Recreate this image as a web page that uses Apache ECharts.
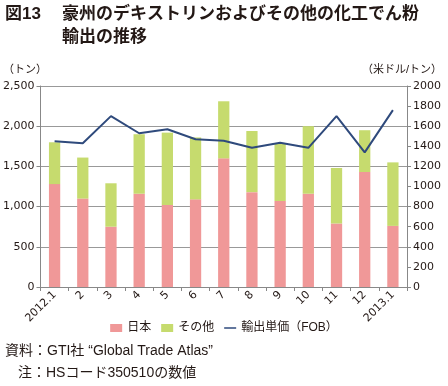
<!DOCTYPE html>
<html><head><meta charset="utf-8">
<script src="https://cdn.jsdelivr.net/npm/echarts@6/dist/echarts.min.js"></script>
<style>html,body{margin:0;padding:0;background:#fff}#c{width:448px;height:386px}</style>
</head><body><div id="c"></div>
<script>
const categories = ['2012.1','2','3','4','5','6','7','8','9','10','11','12','2013.1'];
const japan = [1280,1100,750,1160,1020,1090,1600,1180,1070,1160,790,1430,760];
const totals = [1800,1610,1290,1900,1920,1860,2310,1940,1790,2000,1480,1950,1550];
const others = totals.map((t,i)=>t-japan[i]);
const unitPrice = [1450,1430,1700,1530,1570,1470,1455,1385,1435,1385,1700,1340,1760];
const leftTicks = [0,500,1000,1500,2000,2500];
const rightTicks = [0,200,400,600,800,1000,1200,1400,1600,1800,2000];

const ff = '"Liberation Sans","Noto Sans CJK JP",sans-serif';
const chart = echarts.init(document.getElementById('c'));
chart.setOption({
  animation:false,
  textStyle:{fontFamily:ff},
  graphic:[
    {type:'text',left:5,top:6,style:{text:'図13',font:'bold 17px '+ff,fill:'#231815'}},
    {type:'text',left:62,top:6,style:{text:'豪州のデキストリンおよびその他の化工でん粉',font:'bold 17px '+ff,fill:'#231815'}},
    {type:'text',left:62,top:29,style:{text:'輸出の推移',font:'bold 17px '+ff,fill:'#231815'}},
    {type:'text',left:3,top:64,style:{text:'（トン）',font:'11px '+ff,fill:'#231815'}},
    {type:'text',right:6,top:64,style:{text:'（米ドル/トン）',font:'11px '+ff,fill:'#231815'}},
    {type:'text',left:5,top:344,style:{text:'資料：GTI社 “Global Trade Atlas”',font:'14px '+ff,fill:'#231815'}},
    {type:'text',left:18,top:366,style:{text:'注：HSコード350510の数値',font:'14px '+ff,fill:'#231815'}}
  ],
  legend:{
    top:317,left:'center',itemWidth:12,itemHeight:8,itemGap:10,
    textStyle:{fontSize:12,color:'#231815',fontFamily:ff},
    data:[{name:'日本',icon:'rect'},{name:'その他',icon:'rect'},
          {name:'輸出単価（FOB）',icon:'path://M0 0 H24 V3 H0 Z'}]
  },
  grid:{left:38,right:41,top:86,bottom:99},
  xAxis:{
    type:'category',data:categories,boundaryGap:true,
    axisLine:{lineStyle:{color:'#888',width:1}},
    axisTick:{show:true,length:4,lineStyle:{color:'#888'}},
    axisLabel:{rotate:45,fontSize:11,color:'#231815',margin:6,fontFamily:'"DejaVu Sans",sans-serif'}
  },
  yAxis:[
    {type:'value',min:0,max:2500,interval:500,
     axisLine:{show:true,lineStyle:{color:'#888'}},
     axisTick:{show:true,length:4,lineStyle:{color:'#888'}},
     splitLine:{lineStyle:{color:'#999',width:1}},
     axisLabel:{fontSize:11,color:'#231815',margin:6,fontFamily:'"DejaVu Sans",sans-serif',
       formatter:v=>v.toLocaleString('en-US')}},
    {type:'value',min:0,max:2000,interval:200,
     axisLine:{show:true,lineStyle:{color:'#888'}},
     axisTick:{show:true,length:4,lineStyle:{color:'#888'}},
     splitLine:{show:false},
     axisLabel:{fontSize:11,color:'#231815',margin:6,fontFamily:'"DejaVu Sans",sans-serif',
       formatter:v=>String(v)}}
  ],
  series:[
    {name:'日本',type:'bar',stack:'a',data:japan,barWidth:'40%',itemStyle:{color:'#F09898'}},
    {name:'その他',type:'bar',stack:'a',data:others,barWidth:'40%',itemStyle:{color:'#C6DB6E'}},
    {name:'輸出単価（FOB）',type:'line',yAxisIndex:1,data:unitPrice,symbol:'none',
     lineStyle:{color:'#2F4A7C',width:2},itemStyle:{color:'#2F4A7C'}}
  ]
});
</script></body></html>
